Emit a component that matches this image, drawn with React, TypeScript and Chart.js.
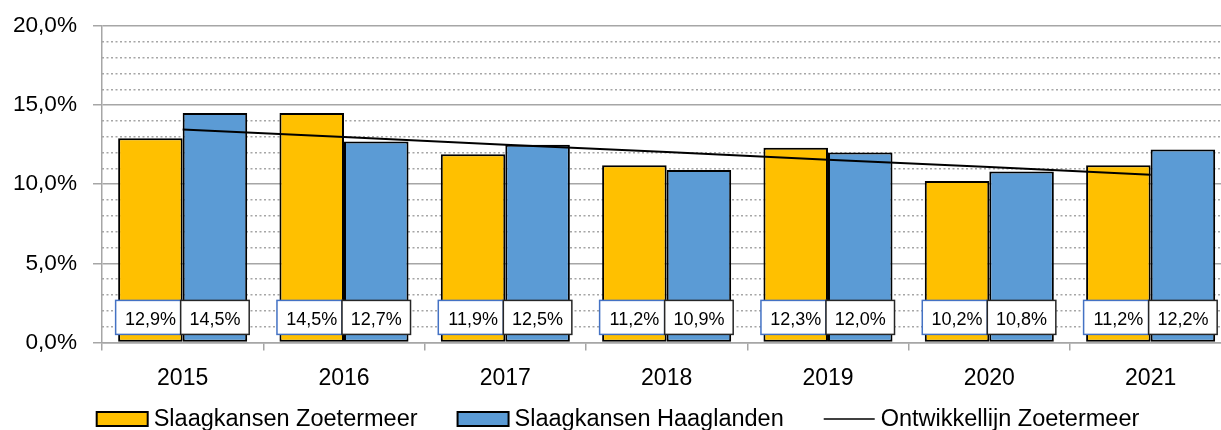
import React, { useEffect, useRef } from 'react';
import { Chart, registerables } from 'chart.js';

Chart.register(...registerables);

const categories = ['2015', '2016', '2017', '2018', '2019', '2020', '2021'];
const zoetermeer = [12.9, 14.5, 11.9, 11.2, 12.3, 10.2, 11.2];
const haaglanden = [14.5, 12.7, 12.5, 10.9, 12.0, 10.8, 12.2];
const trendZoetermeer = [13.45, 12.98, 12.5, 12.03, 11.55, 11.08, 10.6];
const seriesNames = ['Slaagkansen Zoetermeer', 'Slaagkansen Haaglanden', 'Ontwikkellijn Zoetermeer'];
const yMajorTicks = [0, 5, 10, 15, 20];
const yTickLabels = ['0,0%', '5,0%', '10,0%', '15,0%', '20,0%'];

const FONT = '"Liberation Sans", Arial, sans-serif';
const YELLOW = '#FFC000';
const BLUE = '#5B9BD5';
const GRID = '#A6A6A6';

const fmt = (v: number) => v.toFixed(1).replace('.', ',') + '%';

const valueBoxes = {
  id: 'valueBoxes',
  afterDatasetsDraw(chart: any) {
    const ctx = chart.ctx;
    const y0 = chart.scales.y.getPixelForValue(0);
    [1, 2].forEach((di) => {
      const meta = chart.getDatasetMeta(di);
      meta.data.forEach((bar: any, i: number) => {
        const w = bar.width;
        const x = bar.x;
        const left = di === 1 ? x - w / 2 - 2.5 : x - w / 2 - 2;
        const right = di === 1 ? x + w / 2 - 2 : x + w / 2 + 2;
        const top = y0 - 42;
        const bottom = y0 - 8;
        ctx.save();
        ctx.fillStyle = '#ffffff';
        ctx.fillRect(left, top, right - left, bottom - top);
        ctx.strokeStyle = di === 1 ? '#4472C4' : '#262626';
        ctx.lineWidth = 1.5;
        ctx.strokeRect(left, top, right - left, bottom - top);
        ctx.fillStyle = '#000000';
        ctx.font = `18px ${FONT}`;
        ctx.textAlign = 'center';
        ctx.textBaseline = 'alphabetic';
        const v = chart.data.datasets[di].data[i];
        ctx.fillText(fmt(v), x, y0 - 17);
        ctx.restore();
      });
    });
  },
};

const bottomLegend = {
  id: 'bottomLegend',
  afterDraw(chart: any) {
    const ctx = chart.ctx;
    ctx.save();
    ctx.font = `23.5px ${FONT}`;
    const boxW = 51;
    const boxH = 14;
    const gapText = 6;
    const gapItem = 40;
    const items = [
      { kind: 'box', color: YELLOW, text: seriesNames[0] },
      { kind: 'box', color: BLUE, text: seriesNames[1] },
      { kind: 'line', color: '#000000', text: seriesNames[2] },
    ];
    const widths = items.map((it) => boxW + gapText + ctx.measureText(it.text).width);
    const total = widths.reduce((a, b) => a + b, 0) + gapItem * (items.length - 1);
    let x = 618 - total / 2;
    const cy = 419;
    const baseline = 426;
    items.forEach((it, i) => {
      if (it.kind === 'box') {
        ctx.fillStyle = it.color;
        ctx.fillRect(x, cy - boxH / 2, boxW, boxH);
        ctx.strokeStyle = '#000000';
        ctx.lineWidth = 2;
        ctx.strokeRect(x, cy - boxH / 2, boxW, boxH);
      } else {
        ctx.strokeStyle = '#000000';
        ctx.lineWidth = 1.5;
        ctx.beginPath();
        ctx.moveTo(x, cy);
        ctx.lineTo(x + boxW, cy);
        ctx.stroke();
      }
      ctx.fillStyle = '#000000';
      ctx.textAlign = 'left';
      ctx.textBaseline = 'alphabetic';
      ctx.fillText(it.text, x + boxW + gapText, baseline);
      x += widths[i] + gapItem;
    });
    ctx.restore();
  },
};

export default function App() {
  const ref = useRef<HTMLCanvasElement | null>(null);

  useEffect(() => {
    if (!ref.current) return;
    const chart = new Chart(ref.current, {
      type: 'bar',
      data: {
        labels: categories,
        datasets: [
          {
            type: 'line',
            label: seriesNames[2],
            data: trendZoetermeer,
            borderColor: '#000000',
            borderWidth: 2,
            pointRadius: 0,
            fill: false,
            tension: 0,
            order: 0,
            yAxisID: 'y',
          } as any,
          {
            label: seriesNames[0],
            data: zoetermeer,
            backgroundColor: YELLOW,
            borderColor: '#000000',
            borderWidth: 2,
            borderSkipped: false,
            categoryPercentage: 0.8,
            barPercentage: 1.0,
            order: 1,
            yAxisID: 'y',
          },
          {
            label: seriesNames[1],
            data: haaglanden,
            backgroundColor: BLUE,
            borderColor: '#000000',
            borderWidth: 2,
            borderSkipped: false,
            categoryPercentage: 0.8,
            barPercentage: 1.0,
            order: 1,
            yAxisID: 'y',
          },
        ],
      },
      options: {
        responsive: false,
        animation: false,
        events: [],
        layout: { padding: { top: 26, bottom: 24, left: 0, right: 8.7 } },
        plugins: {
          legend: { display: false },
          tooltip: { enabled: false },
        },
        scales: {
          x: {
            offset: true,
            grid: {
              offset: true,
              drawOnChartArea: false,
              drawTicks: true,
              tickLength: 8,
              color: GRID,
              lineWidth: 1.5,
            },
            border: { display: true, color: GRID, width: 1.5 },
            ticks: {
              color: '#000000',
              font: { family: FONT, size: 23 },
              padding: 14,
            },
          },
          y: {
            position: 'left',
            min: 0,
            max: 20,
            afterFit: (s: any) => {
              s.width = 102;
              s.paddingTop = 0;
              s.paddingBottom = 0;
            },
            afterBuildTicks: (s: any) => {
              s.ticks = yMajorTicks.map((v) => ({ value: v }));
            },
            grid: {
              color: GRID,
              lineWidth: 1.5,
              drawTicks: true,
              tickLength: 9,
            },
            border: { display: true, color: GRID, width: 1.5 },
            ticks: {
              color: '#000000',
              font: { family: FONT, size: 22.6 },
              padding: 16,
              callback: (v: any) => {
                const idx = yMajorTicks.indexOf(Number(v));
                return idx >= 0 ? yTickLabels[idx] : '';
              },
            },
          },
          yMinor: {
            position: 'right',
            min: 0,
            max: 20,
            afterFit: (s: any) => {
              s.width = 0;
              s.paddingTop = 0;
              s.paddingBottom = 0;
            },
            ticks: { display: false, stepSize: 1 },
            grid: {
              drawTicks: false,
              lineWidth: 1.5,
              color: (c: any) => (c.tick && c.tick.value % 5 === 0 ? 'rgba(0,0,0,0)' : GRID),
            },
            border: { display: false, dash: [2, 2.5] },
          },
        },
      } as any,
      plugins: [valueBoxes, bottomLegend],
    });
    return () => chart.destroy();
  }, []);

  return (
    <div
      style={{
        position: 'fixed',
        left: 0,
        top: 0,
        width: 1221,
        height: 430,
        overflow: 'hidden',
        background: '#ffffff',
      }}
    >
      <canvas ref={ref} width={1240} height={430} style={{ width: 1240, height: 430, display: 'block' }} />
    </div>
  );
}
